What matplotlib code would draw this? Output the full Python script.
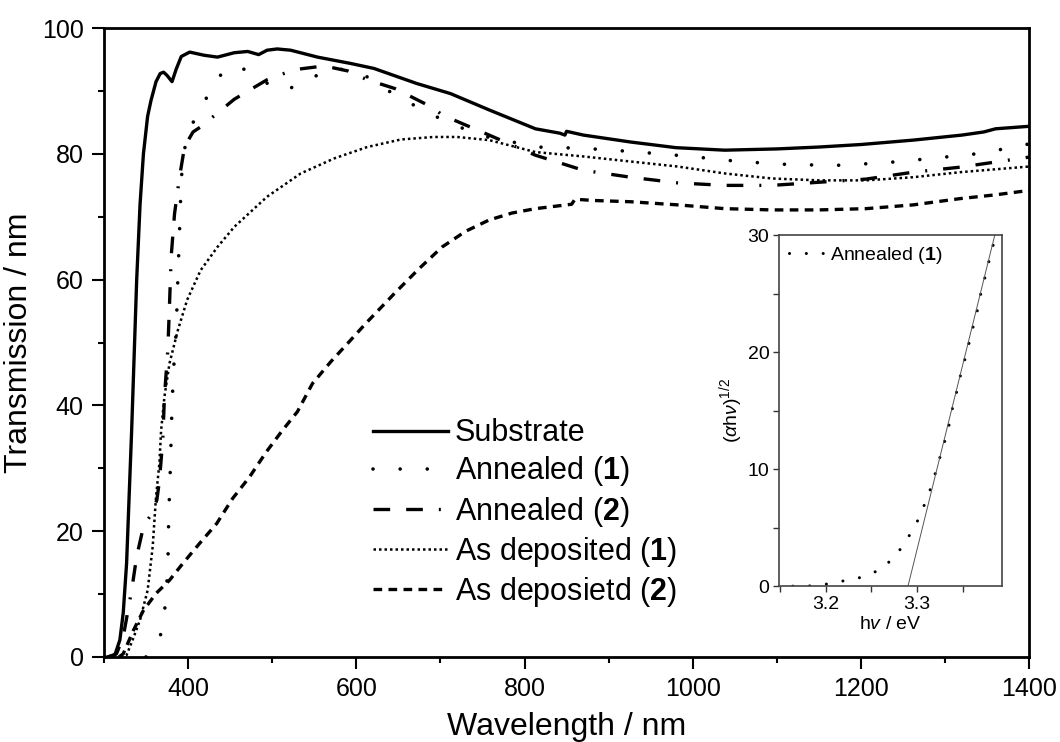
import numpy as np
import matplotlib
matplotlib.use("Agg")
import matplotlib.pyplot as plt

plt.rcParams['font.family'] = ['Liberation Sans', 'DejaVu Sans']
plt.rcParams['mathtext.fontset'] = 'custom'
plt.rcParams['mathtext.rm'] = 'Liberation Sans'
plt.rcParams['mathtext.it'] = 'Liberation Sans:italic'
plt.rcParams['mathtext.bf'] = 'Liberation Sans:bold'

# ---- main spectra (wavelength nm, transmission %) ----
sub_wl = [304, 313, 319, 323, 327, 330, 333, 335, 337, 339, 343, 347, 352, 356, 362, 367, 371, 375,
          381, 386, 392, 402, 419, 435, 455, 471, 484, 494, 506, 522, 554, 593, 621, 672, 712, 758,
          813, 842, 848, 850, 870, 926, 980, 1038, 1100, 1150, 1200, 1262, 1320, 1346, 1360, 1400]
sub_t = [0.0, 0.3, 2.7, 7.0, 14.9, 25.5, 36, 44, 52, 60, 72, 80, 86, 88.5, 91.5, 92.8, 93, 92.5,
         91.5, 93.5, 95.5, 96.2, 95.7, 95.4, 96.1, 96.3, 95.8, 96.5, 96.7, 96.5, 95.4, 94.4, 93.6,
         91.2, 89.6, 87.0, 84.0, 83.3, 83.0, 83.6, 83.0, 81.9, 81.0, 80.6, 80.8, 81.1, 81.5, 82.2,
         83.0, 83.5, 84.0, 84.4]

ann1_wl = [350, 358, 366, 370, 373, 376, 377, 379, 381, 383, 386, 388, 390, 391, 392, 395, 400, 412,
           426, 441, 455, 465, 490, 514, 542, 569, 596, 622, 644, 675, 700, 728, 756, 786, 814, 870,
           926, 998, 1055, 1116, 1173, 1229, 1285, 1343, 1400]
ann1_t = [0.0, 1.0, 3.0, 4.6, 8.4, 14, 22, 30, 40, 46, 52, 60.5, 68, 72, 76, 80.1, 83.5, 86.5, 89.9,
          93, 94, 93.6, 91.5, 90.0, 91.7, 93.6, 93.3, 91.7, 89.5, 87.3, 85.6, 84.0, 82.7, 81.9, 81.1,
          80.9, 80.4, 79.6, 78.8, 78.3, 78.2, 78.6, 79.3, 80.1, 81.6]

ann2_wl = [305, 315, 323, 333, 339, 347, 352, 358, 363, 366, 370, 372, 376, 378, 380, 384, 390, 396,
           406, 415, 435, 455, 475, 494, 526, 562, 590, 613, 646, 692, 702, 758, 813, 870, 926, 982,
           1038, 1094, 1150, 1206, 1262, 1318, 1400]
ann2_t = [0, 0.5, 3.2, 10.6, 16, 20.7, 21.8, 23, 25, 28, 34.5, 41.4, 48.8, 56, 63.7, 70.5, 76.4, 81.2,
          83.5, 84.3, 86.5, 88.7, 90.3, 91.8, 93.4, 94.0, 93.2, 91.8, 90.4, 87.3, 86.2, 83.0, 79.8,
          77.4, 76.3, 75.4, 75.0, 75.0, 75.5, 76.0, 77.1, 77.9, 79.5]

dep1_wl = [320, 327, 335, 343, 352, 358, 362, 366, 368, 372, 378, 388, 399, 415, 435, 455, 494, 534,
           574, 613, 653, 692, 720, 758, 813, 870, 926, 982, 1038, 1094, 1150, 1206, 1262, 1318, 1400]
dep1_t = [0, 0.3, 3, 5.9, 10.6, 17.5, 25.5, 30.8, 36, 41.4, 46.7, 52, 56.8, 61.5, 65.2, 68.4, 73.2,
          76.9, 79.3, 81.1, 82.3, 82.7, 82.7, 82.2, 80.3, 79.6, 78.8, 78.0, 76.9, 76.1, 75.8, 75.8,
          76.3, 77.1, 78.0]

dep2_wl = [318, 323, 335, 347, 362, 378, 394, 414, 434, 453, 473, 493, 512, 530, 548, 570, 590, 611,
           646, 675, 702, 730, 758, 785, 813, 856, 860, 882, 926, 982, 1038, 1094, 1150, 1206, 1262,
           1318, 1360, 1400]
dep2_t = [0, 0.5, 4.2, 7.4, 10.1, 12.2, 14.9, 18.1, 21.2, 25.2, 28.6, 32.6, 36, 39, 43.5, 47, 49.9,
          53, 57.9, 61.8, 65.2, 67.7, 69.5, 70.6, 71.3, 72.0, 72.8, 72.6, 72.4, 71.9, 71.3, 71.1,
          71.1, 71.3, 71.9, 72.9, 73.5, 74.2]

# ---- inset: Tauc plot of Annealed (1) ----
tauc_e = [3.164, 3.179, 3.193, 3.208, 3.222, 3.236, 3.251, 3.263, 3.275, 3.284, 3.292, 3.300, 3.306,
          3.312, 3.317, 3.322, 3.326, 3.331, 3.335, 3.338, 3.342, 3.346, 3.349, 3.354, 3.358, 3.362,
          3.366, 3.369, 3.373, 3.377, 3.381, 3.385]
tauc_y = [0.0, 0.0, 0.1, 0.25, 0.5, 0.7, 1.1, 1.6, 2.5, 3.4, 4.4, 5.5, 6.6, 7.7, 8.9, 10.2, 11.3,
          12.6, 13.8, 15.0, 16.2, 17.5, 18.6, 19.8, 21.2, 22.4, 23.6, 24.8, 26.0, 27.3, 28.5, 29.7]
gap_ev = 3.29
fit_slope = 316.0

fig = plt.figure(figsize=(10.6, 7.42), dpi=100)
ax = fig.add_axes([0.098, 0.1146, 0.873, 0.8474])

ax.plot(sub_wl, sub_t, color='black', lw=2.4, ls='-', label='Substrate')
ax.plot(ann1_wl, ann1_t, color='black', lw=2.6, ls=(0, (0.01, 7.5)), dash_capstyle='round',
        label=r'Annealed ($\mathbf{1}$)')
ax.plot(ann2_wl, ann2_t, color='black', lw=2.4, ls=(0, (5.0, 4.8, 5.0, 4.8, 0.6, 4.8)),
        label=r'Annealed ($\mathbf{2}$)')
ax.plot(dep1_wl, dep1_t, color='black', lw=1.8, ls=(0, (1, 1.2)), label=r'As deposited ($\mathbf{1}$)')
ax.plot(dep2_wl, dep2_t, color='black', lw=2.4, ls=(0, (2.6, 1.9)), label=r'As deposietd ($\mathbf{2}$)')

ax.set_xlim(300, 1400)
ax.set_ylim(0, 100)
ax.set_xticks([400, 600, 800, 1000, 1200, 1400])
ax.set_xticks(np.arange(300, 1401, 100), minor=True)
ax.set_yticks([0, 20, 40, 60, 80, 100])
ax.set_yticks(np.arange(0, 101, 10), minor=True)
ax.tick_params(which='both', direction='out', width=1.5, labelsize=18, top=False, right=False)
ax.tick_params(which='major', length=8.5, pad=6)
ax.tick_params(which='minor', length=4.5)
for s in ax.spines.values():
    s.set_linewidth(2)
ax.set_xlabel('Wavelength / nm', fontsize=23, labelpad=8)
ax.set_ylabel('Transmission / nm', fontsize=23, labelpad=6)

ax.legend(loc='center', bbox_to_anchor=(0.455, 0.228), frameon=False, fontsize=22,
          handlelength=2.45, handletextpad=0.24, labelspacing=0.2, borderpad=0.2)

ins = fig.add_axes([0.735, 0.210, 0.2104, 0.473])
ins.plot(tauc_e, tauc_y, color='black', lw=2.2, ls=(0, (0.01, 5.5)), dash_capstyle='round',
         label=r'Annealed ($\mathbf{1}$)')
fit_e = np.array([gap_ev, 3.386])
ins.plot(fit_e, fit_slope * (fit_e - gap_ev), color='#555555', lw=0.7)
ins.set_xlim(3.149, 3.393)
ins.set_ylim(0, 30)
ins.set_xticks([3.2, 3.3])
ins.set_xticks([3.15, 3.25, 3.35], minor=True)
ins.set_yticks([0, 10, 20, 30])
ins.set_yticks([5, 15, 25], minor=True)
ins.tick_params(which='both', direction='out', width=1, length=4, labelsize=14, pad=3,
                colors='#333333', labelcolor='black')
for s in ins.spines.values():
    s.set_linewidth(1.2)
    s.set_color('#444444')
ins.set_xlabel(r'h$\mathit{v}$ / eV', fontsize=14, labelpad=2)
ins.set_ylabel(r'($\alpha$h$\nu$)$^{1/2}$', fontsize=14, labelpad=2)
ins.legend(loc='upper left', frameon=False, fontsize=14,
           handlelength=2.0, handletextpad=0.1, borderpad=0.4, borderaxespad=0.1)

fig.savefig('out.png', dpi=100)
